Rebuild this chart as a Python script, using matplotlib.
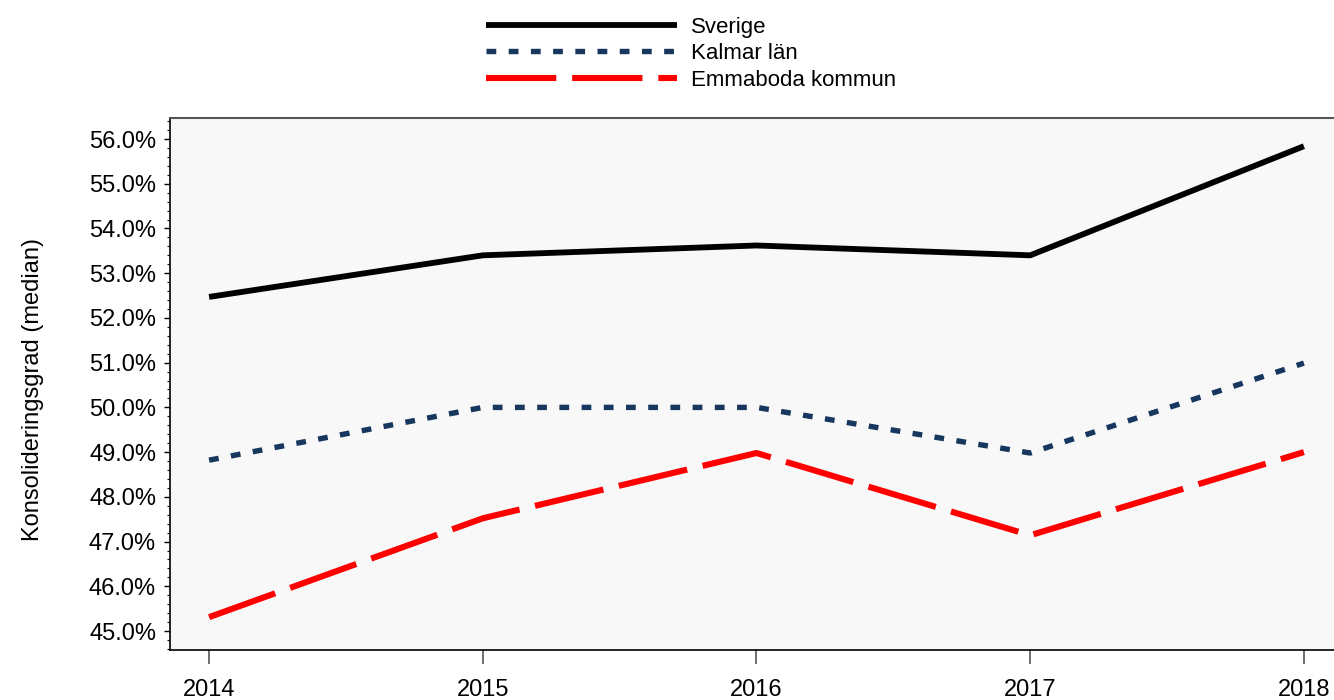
import numpy as np
import matplotlib.pyplot as plt
from matplotlib.ticker import FuncFormatter, MultipleLocator

plt.rcParams['font.family'] = ['Liberation Sans', 'DejaVu Sans']

years = [2014, 2015, 2016, 2017, 2018]
sverige = [52.47, 53.40, 53.62, 53.40, 55.84]
kalmar = [48.82, 50.00, 50.00, 48.98, 50.99]
emmaboda = [45.31, 47.52, 48.98, 47.14, 49.00]

fig = plt.figure(figsize=(13.34, 7.0), dpi=100)
ax = fig.add_axes([0.1274, 0.0714, 0.8726, 0.76])
ax.set_facecolor('#F8F8F8')

ax.plot(years, sverige, color='black', lw=4.2, solid_capstyle='butt', label='Sverige')
ax.plot(years, kalmar, color='#17375E', lw=3.9, dashes=(1.8, 2.3), label='Kalmar län')
ax.plot(years, emmaboda, color='#FF0000', lw=4.4, dashes=(11.5, 2.6), label='Emmaboda kommun')

ax.set_xlim(2013.857, 2018.11)
ax.set_ylim(44.575, 56.47)
ax.set_xticks(years)
ax.yaxis.set_major_locator(MultipleLocator(1.0))
ax.yaxis.set_minor_locator(MultipleLocator(0.2))
ax.yaxis.set_major_formatter(FuncFormatter(lambda v, p: f'{v:.1f}%'))

for s in ['left', 'bottom']:
    ax.spines[s].set_color('black')
    ax.spines[s].set_linewidth(1.2)
ax.spines['top'].set_color('#555555')
ax.spines['top'].set_linewidth(1.5)
ax.spines['right'].set_visible(False)

ax.tick_params(axis='x', direction='out', length=10, width=1.2, color='#555555', pad=11, labelsize=17)
ax.tick_params(axis='y', which='major', direction='out', length=4, width=1.0, pad=6, labelsize=17)
ax.tick_params(axis='y', which='minor', direction='out', length=2, width=0.8)

ax.set_ylabel('Konsolideringsgrad (median)', fontsize=17)
ax.yaxis.set_label_coords(-0.108, 0.49)

fig.legend(loc='upper center', bbox_to_anchor=(0.518, 1.005), frameon=False,
           fontsize=16, handlelength=8.6, handletextpad=0.63, labelspacing=0.25)

fig.savefig('out.png', dpi=100)
